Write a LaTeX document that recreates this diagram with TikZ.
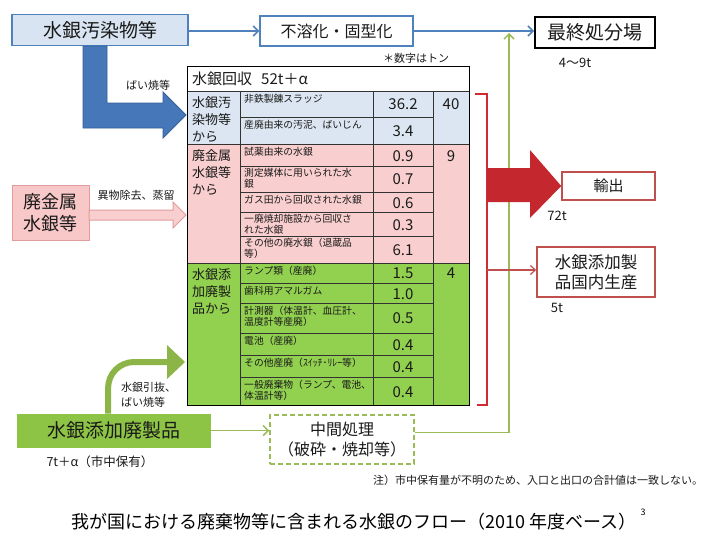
\documentclass[tikz,border=0pt]{standalone}
\usepackage{fontspec}
\setmainfont{Noto Sans CJK JP}
\usetikzlibrary{arrows.meta,calc}
\definecolor{bblue}{HTML}{4F81BD}
\definecolor{arrblue}{HTML}{4677B8}
\definecolor{arrblueline}{HTML}{35609A}
\definecolor{lblue}{HTML}{DCE6F2}
\definecolor{boxblue}{HTML}{D9E4F2}
\definecolor{lpink}{HTML}{F9CECE}
\definecolor{boxpink}{HTML}{F8C8C8}
\definecolor{pinkline}{HTML}{E09C9C}
\definecolor{tgreen}{HTML}{92D050}
\definecolor{bgreen}{HTML}{8EC445}
\definecolor{ogreen}{HTML}{9BBB59}
\definecolor{cgreen}{HTML}{8CB446}
\definecolor{dred}{HTML}{C4282E}
\definecolor{rbracket}{HTML}{D02A33}
\definecolor{boxred}{HTML}{C0504D}
\definecolor{tline}{HTML}{333333}
\definecolor{txt}{HTML}{1A1A1A}
\newcommand{\fsz}[2]{\fontsize{#1pt}{#2pt}\selectfont}
\tikzset{
  itemtxt/.style={anchor=north west, align=left, inner sep=0pt, font=\fsz{9.8}{11}, text=txt},
  valtxt/.style={font=\fsz{15}{18}, text=txt, inner sep=0pt},
  cattxt/.style={anchor=north west, align=left, inner sep=0pt, font=\fsz{13}{17}, text=txt},
  lbl/.style={font=\fsz{11}{15}, text=txt, inner sep=0pt, align=left},
  bigbox/.style={draw, line width=1.5pt, inner sep=0pt, text=txt, align=center},
  thinarrow/.style={line width=1.5pt, -{Straight Barb[length=5pt,width=10pt]}},
  tblline/.style={draw=tline, line width=0.8pt}
}
\begin{document}
\begin{tikzpicture}[x=1pt,y=-1pt]
\useasboundingbox (0,0) rectangle (711,536);
\fill[white] (0,0) rectangle (711,536);

% ---------- table ----------
\fill[white] (187,66) rectangle (469,91);
\fill[lblue] (187,91) rectangle (469,144);
\fill[lpink] (187,144) rectangle (469,263);
\fill[tgreen] (187,263) rectangle (469,405);
\draw[tblline] (187,91) -- (469,91) (187,144) -- (469,144) (187,263) -- (469,263);
\draw[tblline] (240,91) -- (240,405) (373,91) -- (373,405) (433,91) -- (433,405);
\foreach \yy in {117,166,192,212,236,283,303,333,355,377}
  \draw[tblline] (240,\yy) -- (433,\yy);
\draw[draw=black, line width=0.9pt] (187,66) rectangle (469,405);

\node[anchor=west, inner sep=0pt, font=\fsz{15}{17}, text=txt] (ttl) at (192,79) {水銀回収\hspace{9pt}52t＋α};

\node[cattxt] (catA) at (192,96) {水銀汚\\染物等\\から};
\node[cattxt] (catB) at (192,149) {廃金属\\水銀等\\から};
\node[cattxt] (catC) at (192,268) {水銀添\\加廃製\\品から};

\node[itemtxt] (i1) at (244,94) {非鉄製錬スラッジ};
\node[itemtxt] (i2) at (244,120) {産廃由来の汚泥、ばいじん};
\node[itemtxt] (i3) at (244,147) {試薬由来の水銀};
\node[itemtxt] (i4) at (244,168) {測定媒体に用いられた水\\銀};
\node[itemtxt] (i5) at (244,195) {ガス田から回収された水銀};
\node[itemtxt] (i6) at (244,214) {一廃焼却施設から回収さ\\れた水銀};
\node[itemtxt] (i7) at (244,238) {その他の廃水銀（退蔵品\\等）};
\node[itemtxt] (i8) at (244,266) {ランプ類（産廃）};
\node[itemtxt] (i9) at (244,286) {歯科用アマルガム};
\node[itemtxt] (i10) at (244,306) {計測器（体温計、血圧計、\\温度計等産廃）};
\node[itemtxt] (i11) at (244,336) {電池（産廃）};
\node[itemtxt] (i12) at (244,358) {その他産廃（ｽｲｯﾁ･ﾘﾚｰ等）};
\node[itemtxt] (i13) at (244,380) {一般廃棄物（ランプ、電池、\\体温計等）};

\node[valtxt] (v1) at (403,104) {36.2};
\node[valtxt] (v2) at (403,131) {3.4};
\node[valtxt] (v3) at (403,156) {0.9};
\node[valtxt] (v4) at (403,179) {0.7};
\node[valtxt] (v5) at (403,203) {0.6};
\node[valtxt] (v6) at (403,225) {0.3};
\node[valtxt] (v7) at (403,250) {6.1};
\node[valtxt] (v8) at (403,273) {1.5};
\node[valtxt] (v9) at (403,294) {1.0};
\node[valtxt] (v10) at (403,318) {0.5};
\node[valtxt] (v11) at (403,345) {0.4};
\node[valtxt] (v12) at (403,367) {0.4};
\node[valtxt] (v13) at (403,392) {0.4};

\node[valtxt] (s1) at (451,104) {40};
\node[valtxt] (s2) at (451,156) {9};
\node[valtxt] (s3) at (451,273) {4};

\node[lbl] (unit) at (416,58) {＊数字はトン};

% ---------- top row ----------
\node[bigbox, draw=bblue, fill=boxblue, minimum width=176pt, minimum height=31pt, font=\fsz{19}{22}] (pollut) at (100,30) {水銀汚染物等};
\node[bigbox, draw=bblue, fill=white, minimum width=153pt, minimum height=30pt, font=\fsz{16}{19}] (solid) at (336.5,31) {不溶化・固型化};
\node[bigbox, draw=black, line width=2pt, fill=white, minimum width=120pt, minimum height=31pt, font=\fsz{19}{22}] (landfill) at (595,32) {最終処分場};
\node[font=\fsz{13}{15}, text=txt, inner sep=0pt] (lf) at (575,63) {4〜9t};

\draw[thinarrow, bblue] (pollut.east |- solid.west) -- (solid.west);
\draw[thinarrow, bblue] (solid.east) -- (solid.east -| landfill.west);

% blue L arrow
\fill[arrblue, draw=arrblueline, line width=0.8pt]
  (83,46) -- (107,46) -- (107,103) -- (163,103) -- (163,92) -- (186,115)
  -- (163,138) -- (163,128) -- (83,128) -- cycle;
\node[lbl] (lblA) at (148,85) {ばい焼等};

% ---------- pink ----------
\node[bigbox, draw=pinkline, line width=1pt, fill=boxpink, minimum width=77pt, minimum height=55pt, font=\fsz{18}{22}] (metal) at (50.5,212.5) {廃金属\\水銀等};
\fill[lpink, draw=pinkline, line width=1pt]
  (89,210) -- (173,210) -- (173,202) -- (186,215) -- (173,228) -- (173,220) -- (89,220) -- cycle;
\node[lbl] (lblB) at (136,195) {異物除去、蒸留};

% ---------- green bottom ----------
\node[bigbox, draw=bgreen, line width=0.8pt, fill=bgreen, minimum width=193pt, minimum height=33pt, font=\fsz{19}{22}] (product) at (113.5,430.5) {水銀添加廃製品};
\node[font=\fsz{12.5}{14}, text=txt, inner sep=0pt] (stock) at (100,462) {7t＋α（市中保有）};

\coordinate (cstart) at ($(product.north west)+(91.5,0)$);
\coordinate (cend) at (168,362);
\draw[cgreen, line width=6pt, rounded corners=26pt] (cstart) |- (cend);
\fill[cgreen] (167,345) -- (185,362) -- (167,379) -- cycle;
\node[lbl, anchor=west] (lblC) at (121,395) {水銀引抜、\\ばい焼等};

\node[bigbox, draw=ogreen, dash pattern=on 5pt off 3pt, fill=white, minimum width=144pt, minimum height=49pt, font=\fsz{16}{20}] (mid) at (342,439.5) {中間処理\\（破砕・焼却等）};
\draw[thinarrow, ogreen] (product.east) -- (product.east -| mid.west);

\coordinate (gright) at ($(mid.east)+(0,-7)$);
\coordinate (gtop) at (509,33);
\draw[thinarrow, ogreen] (gright) -| (gtop);

% ---------- red ----------
\draw[rbracket, line width=1.5pt] (475,94) -- (487,94) -- (487,405) -- (477,405);

\node[bigbox, draw=boxred, fill=white, minimum width=93pt, minimum height=28pt, font=\fsz{15}{18}] (export) at (608.5,186) {輸出};
\fill[dred] (487,168) -- (530,168) -- (530,150) -- (export.west) -- (530,218) -- (530,202) -- (487,202) -- cycle;
\node[font=\fsz{13}{15}, text=txt, inner sep=0pt] (ex) at (557,216) {72t};

\node[bigbox, draw=boxred, fill=white, minimum width=118pt, minimum height=50pt, font=\fsz{16.5}{20}] (domestic) at (596,272) {水銀添加製\\品国内生産};
\coordinate (rb2) at (487,270);
\draw[boxred, line width=1.2pt, -{Straight Barb[length=5pt,width=9pt]}] (rb2) -- (rb2 -| domestic.west);
\node[font=\fsz{13}{15}, text=txt, inner sep=0pt] (dm) at (557,308) {5t};

% ---------- notes ----------
\node[anchor=west, inner sep=0pt, font=\fsz{11}{12}, text=txt] (note) at (373,480) {注）市中保有量が不明のため、入口と出口の合計値は一致しない。};
\node[anchor=west, inner sep=0pt, font=\fsz{18}{20}, text=black] (cap) at (71,522) {我が国における廃棄物等に含まれる水銀のフロー（2010 年度ベース）};
\node[inner sep=0pt, font=\fsz{9}{10}, text=black] (capsup) at (643,512) {3};
\end{tikzpicture}
\end{document}
